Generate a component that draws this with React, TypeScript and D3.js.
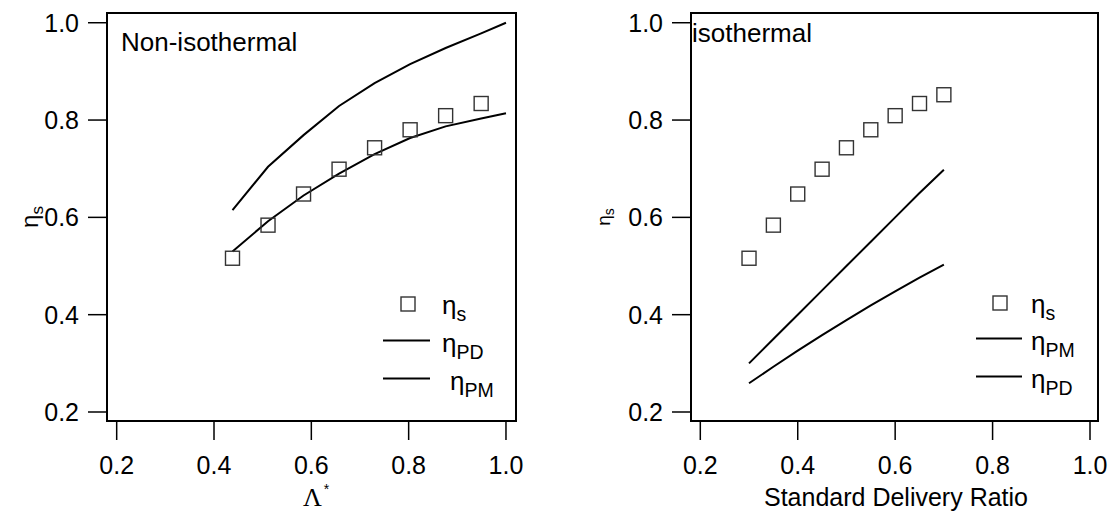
import React from "react";
import * as d3 from "d3";

const lambdaStar = [0.438, 0.511, 0.584, 0.657, 0.73, 0.803, 0.876, 0.949];
const etaSLeft = [0.516, 0.584, 0.648, 0.699, 0.743, 0.78, 0.809, 0.834];
const lambdaLine = [0.438, 0.511, 0.584, 0.657, 0.73, 0.803, 0.876, 0.949, 1.0];
const etaPDLeft = [0.615, 0.704, 0.769, 0.829, 0.876, 0.915, 0.948, 0.978, 1.0];
const etaPMLeft = [0.53, 0.592, 0.645, 0.69, 0.73, 0.763, 0.787, 0.803, 0.814];

const sdr = [0.3, 0.35, 0.4, 0.45, 0.5, 0.55, 0.6, 0.65, 0.7];
const etaSRight = [0.516, 0.584, 0.648, 0.699, 0.743, 0.78, 0.809, 0.834, 0.852];
const etaPMRight = [0.3, 0.35, 0.4, 0.45, 0.5, 0.55, 0.6, 0.65, 0.698];
const etaPDRight = [0.259, 0.293, 0.326, 0.358, 0.389, 0.419, 0.448, 0.476, 0.503];

const ticks = [0.2, 0.4, 0.6, 0.8, 1.0];
const tickLabels = ["0.2", "0.4", "0.6", "0.8", "1.0"];

const FONT = "'Liberation Sans', Arial, sans-serif";

type PanelProps = {
  x0: number;
  x1: number;
  xDomain: [number, number];
  squaresX: number[];
  squaresY: number[];
  lines: { x: number[]; y: number[] }[];
};

function Panel({ x0, x1, xDomain, squaresX, squaresY, lines }: PanelProps) {
  const x = d3.scaleLinear().domain(xDomain).range([x0, x1]);
  const y = d3.scaleLinear().domain([0.1815, 1.02]).range([421, 13]);
  const line = d3
    .line<[number, number]>()
    .x((d) => x(d[0]))
    .y((d) => y(d[1]));
  return (
    <g>
      {lines.map((l, i) => (
        <path
          key={i}
          d={line(l.x.map((v, j) => [v, l.y[j]] as [number, number])) || ""}
          fill="none"
          stroke="#000"
          strokeWidth={2}
        />
      ))}
      {squaresX.map((v, i) => (
        <rect
          key={i}
          x={x(v) - 7}
          y={y(squaresY[i]) - 7}
          width={14}
          height={14}
          fill="none"
          stroke="#333"
          strokeWidth={1.4}
        />
      ))}
      <rect x={x0} y={13} width={x1 - x0} height={408} fill="none" stroke="#000" strokeWidth={2} />
      {ticks.map((t, i) => (
        <g key={"y" + i}>
          <line x1={x0 - 19} x2={x0} y1={y(t)} y2={y(t)} stroke="#000" strokeWidth={1.5} />
          <text x={x0 - 28} y={y(t) + 9} textAnchor="end" fontSize={25} fontFamily={FONT}>
            {tickLabels[i]}
          </text>
        </g>
      ))}
      {ticks.map((t, i) => (
        <g key={"x" + i}>
          <line x1={x(t)} x2={x(t)} y1={421} y2={440} stroke="#000" strokeWidth={1.5} />
          <text x={x(t)} y={474} textAnchor="middle" fontSize={25} fontFamily={FONT}>
            {tickLabels[i]}
          </text>
        </g>
      ))}
    </g>
  );
}

function Eta({ x, y, sub, size = 26 }: { x: number; y: number; sub: string; size?: number }) {
  return (
    <text x={x} y={y} fontSize={size} fontFamily={FONT}>
      η
      <tspan fontSize={size * 0.75} dy={size * 0.25}>
        {sub}
      </tspan>
    </text>
  );
}

export default function App() {
  return (
    <svg width={1112} height={512} style={{ position: "absolute", left: 0, top: 0, background: "#fff" }}>
      <rect width={1112} height={512} fill="#fff" />
      <Panel
        x0={107}
        x1={516}
        xDomain={[0.1801, 1.0206]}
        squaresX={lambdaStar}
        squaresY={etaSLeft}
        lines={[
          { x: lambdaLine, y: etaPDLeft },
          { x: lambdaLine, y: etaPMLeft },
        ]}
      />
      <Panel
        x0={691}
        x1={1098}
        xDomain={[0.1809, 1.0164]}
        squaresX={sdr}
        squaresY={etaSRight}
        lines={[
          { x: sdr, y: etaPMRight },
          { x: sdr, y: etaPDRight },
        ]}
      />
      <text x={121} y={51} fontSize={26} fontFamily={FONT}>
        Non-isothermal
      </text>
      <text x={692} y={42} fontSize={26} fontFamily={FONT}>
        isothermal
      </text>

      {/* left legend */}
      <rect x={401} y={297} width={14} height={14} fill="none" stroke="#333" strokeWidth={1.4} />
      <Eta x={442} y={314} sub="s" />
      <line x1={383} x2={430} y1={340.5} y2={340.5} stroke="#000" strokeWidth={2} />
      <Eta x={442} y={352} sub="PD" />
      <line x1={383} x2={430} y1={378.5} y2={378.5} stroke="#000" strokeWidth={2} />
      <Eta x={450} y={390} sub="PM" />

      {/* right legend */}
      <rect x={993} y={296} width={14} height={14} fill="none" stroke="#333" strokeWidth={1.4} />
      <Eta x={1031} y={313} sub="s" />
      <line x1={976} x2={1022} y1={338.5} y2={338.5} stroke="#000" strokeWidth={2} />
      <Eta x={1031} y={350} sub="PM" />
      <line x1={976} x2={1022} y1={376.5} y2={376.5} stroke="#000" strokeWidth={2} />
      <Eta x={1031} y={388} sub="PD" />

      {/* axis titles */}
      <g transform="translate(38,217) rotate(-90)">
        <text textAnchor="middle" fontSize={24} fontFamily={FONT}>
          η<tspan fontSize={17} dy={5}>s</tspan>
        </text>
      </g>
      <g transform="translate(610,217) rotate(-90)">
        <text textAnchor="middle" fontSize={19} fontFamily={FONT}>
          η<tspan fontSize={14} dy={4}>s</tspan>
        </text>
      </g>
      <text x={303} y={506} fontSize={26} fontFamily="'Liberation Serif', 'Times New Roman', serif">
        Λ
        <tspan fontSize={14} dx={2} dy={-12} fontFamily={FONT}>
          *
        </tspan>
      </text>
      <text x={896} y={506} textAnchor="middle" fontSize={25} fontFamily={FONT}>
        Standard Delivery Ratio
      </text>
    </svg>
  );
}
